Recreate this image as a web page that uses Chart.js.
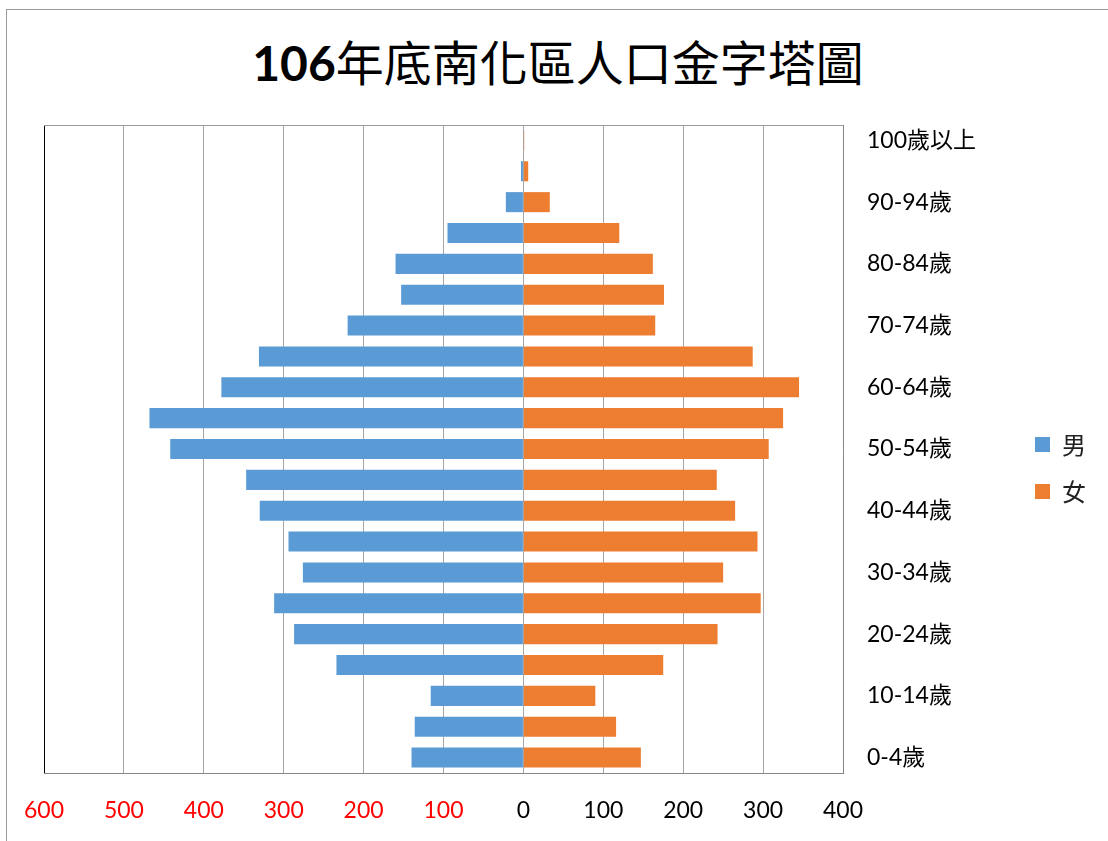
<!DOCTYPE html>
<html>
<head>
<meta charset="utf-8">
<script src="https://cdn.jsdelivr.net/npm/chart.js@4"></script>
<style>
  body { margin: 0; background: #fff; }
  #wrap { position: relative; width: 1108px; height: 841px; overflow: hidden; }
  #frame { position: absolute; left: 6px; top: 9px; width: 1200px; height: 900px; border: 1px solid #9a9a9a; }
  #title {
    position: absolute; left: 0; top: 28px; width: 1116px; text-align: center;
    font-family: "Noto Sans CJK TC", sans-serif; font-size: 48px; font-weight: 400;
    line-height: 64px; color: #000; margin: 0;
  }
  #title b { font-family: Lato, "Noto Sans CJK TC", sans-serif; font-weight: 700; }
  canvas { position: absolute; left: 0; top: 0; }
</style>
</head>
<body>
<div id="wrap">
  <div id="frame"></div>
  <h1 id="title"><b>106</b>年底南化區人口金字塔圖</h1>
  <canvas id="pyramid" width="1108" height="841"></canvas>
</div>
<script>
// age groups, bottom to top
const ageGroups = ['0-4歲', '5-9歲', '10-14歲', '15-19歲', '20-24歲', '25-29歲', '30-34歲',
  '35-39歲', '40-44歲', '45-49歲', '50-54歲', '55-59歲', '60-64歲', '65-69歲', '70-74歲',
  '75-79歲', '80-84歲', '85-89歲', '90-94歲', '95-99歲', '100歲以上'];

// people per age group
const male = [140, 136, 116, 234, 287, 312, 276, 294, 330, 347, 442, 468, 378, 331, 220, 153, 160, 95, 22, 3, 0];
const female = [147, 116, 90, 175, 243, 297, 250, 293, 265, 242, 307, 325, 345, 287, 165, 176, 162, 120, 33, 6, 1];

// x axis range / step
const xMin = -600;
const xMax = 400;
const xStep = 100;

const labelFont = 'Lato, "Noto Sans CJK TC", sans-serif';

// top border line of the plot area, and nudge the legend up a little
const extras = {
  id: 'extras',
  afterLayout(chart) {
    chart.legend.top -= 15;
    chart.legend.bottom -= 15;
  },
  afterDraw(chart) {
    const {ctx, chartArea} = chart;
    ctx.save();
    ctx.strokeStyle = '#9a9a9a';
    ctx.lineWidth = 1;
    ctx.beginPath();
    ctx.moveTo(chartArea.left, chartArea.top + 0.5);
    ctx.lineTo(chartArea.right, chartArea.top + 0.5);
    ctx.stroke();
    ctx.restore();
  }
};

const pyramid = new Chart(document.getElementById('pyramid'), {
  type: 'bar',
  data: {
    labels: ageGroups,
    datasets: [
      { label: '男', data: male.map(v => -v), backgroundColor: '#5b9bd5', borderWidth: 0 },
      { label: '女', data: female, backgroundColor: '#ed7d31', borderWidth: 0 }
    ]
  },
  options: {
    indexAxis: 'y',
    responsive: false,
    animation: false,
    barPercentage: 0.65,
    categoryPercentage: 1,
    layout: { padding: { top: 125, left: 43, bottom: 0, right: 12 } },
    scales: {
      x: {
        stacked: true,
        min: xMin,
        max: xMax,
        afterFit: scale => { scale.height = 68; },
        ticks: {
          stepSize: xStep,
          padding: 24,
          font: { family: labelFont, size: 23 },
          color: ctx => ctx.tick.value < 0 ? '#ff0000' : '#000000',
          callback: v => Math.abs(v)
        },
        grid: {
          drawTicks: false,
          color: ctx => ctx.tick && ctx.tick.value === xMin ? '#000000' : '#a6a6a6',
          lineWidth: 1
        },
        border: { color: '#868686', width: 1 }
      },
      y: {
        stacked: true,
        position: 'right',
        reverse: true,
        afterFit: scale => { scale.width = 169; },
        ticks: {
          autoSkip: false,
          padding: 24,
          crossAlign: 'near',
          font: { family: labelFont, size: 23 },
          color: '#000000',
          callback: (v, i) => i % 2 === 0 ? ageGroups[i] : ''
        },
        grid: { display: false, drawTicks: false },
        border: { color: '#868686', width: 1 }
      }
    },
    plugins: {
      legend: {
        position: 'right',
        labels: {
          boxWidth: 15,
          boxHeight: 15,
          padding: 23,
          color: '#222222',
          font: { family: '"Noto Sans CJK TC", sans-serif', size: 24 }
        }
      },
      tooltip: { enabled: false }
    }
  },
  plugins: [extras]
});
</script>
</body>
</html>
